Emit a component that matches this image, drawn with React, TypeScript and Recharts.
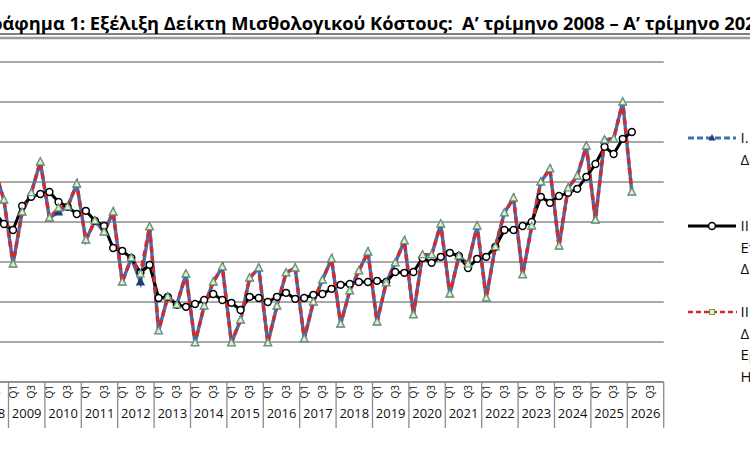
import React from "react";
import { LineChart, Line, XAxis, YAxis, CartesianGrid } from "recharts";

const years = [
  "2008", "2009", "2010", "2011", "2012", "2013", "2014", "2015", "2016", "2017",
  "2018", "2019", "2020", "2021", "2022", "2023", "2024", "2025", "2026",
];
const quarters = ["Q1", "Q2", "Q3", "Q4"];
const yTicks = [70, 80, 90, 100, 110, 120, 130, 140, 150];

// I. unadjusted index
const rawIndex = [
  104.3, 114.3, 123.0, 115.5, 99.5, 112.5, 117.3, 125.0, 111.0, 112.5,
  113.8, 119.5, 105.5, 110.3, 107.5, 112.5, 95.0, 101.0, 95.0, 108.8,
  82.8, 91.3, 89.3, 97.0, 79.8, 89.0, 95.0, 98.8, 79.8, 85.5,
  96.0, 98.5, 79.8, 89.0, 97.3, 98.5, 80.8, 90.0, 95.5, 100.8,
  84.5, 92.8, 97.8, 102.5, 85.0, 94.8, 99.8, 105.3, 86.8, 101.8,
  101.8, 109.5, 92.0, 101.5, 99.5, 109.0, 91.0, 103.8, 112.3, 116.0,
  96.8, 109.0, 120.0, 123.3, 104.0, 118.5, 121.5, 129.0, 110.5, 130.5,
  130.8, 140.0, 117.5,
];

// II. seasonally adjusted index
const seasonalAdj = [
  111.5, 112.3, 112.3, 109.5, 108.0, 114.0, 116.3, 117.0, 117.5, 115.0,
  113.8, 112.0, 112.8, 110.3, 109.0, 103.5, 102.8, 101.0, 97.3, 99.3,
  91.0, 91.3, 89.3, 88.8, 89.5, 90.5, 92.0, 90.5, 89.8, 88.0,
  91.3, 91.0, 90.0, 91.3, 92.3, 90.8, 91.0, 91.8, 92.0, 93.3,
  94.3, 94.5, 95.0, 95.0, 95.3, 95.0, 97.5, 97.3, 97.5, 101.0,
  99.8, 101.3, 102.3, 101.5, 98.5, 100.8, 101.3, 103.8, 108.0, 108.0,
  109.0, 110.0, 116.3, 114.8, 116.5, 117.3, 118.3, 121.3, 124.5, 128.8,
  127.0, 130.8, 132.5,
];

// III. working-day adjusted index
const workdayAdj = [
  104.3, 114.3, 123.0, 115.5, 99.5, 112.5, 117.3, 125.0, 111.0, 113.5,
  113.8, 119.5, 105.5, 110.3, 107.5, 112.5, 95.0, 101.0, 97.0, 108.8,
  82.8, 91.3, 89.3, 97.0, 79.8, 89.0, 95.0, 98.8, 79.8, 85.5,
  96.0, 98.5, 79.8, 89.0, 97.3, 98.5, 80.8, 90.0, 95.5, 100.8,
  84.5, 92.8, 97.8, 102.5, 85.0, 94.8, 99.8, 105.3, 86.8, 101.8,
  101.8, 109.5, 92.0, 101.5, 99.5, 109.0, 91.0, 103.8, 112.3, 116.0,
  96.8, 109.0, 120.0, 123.3, 104.0, 118.5, 121.5, 129.0, 110.5, 130.5,
  130.8, 140.0, 117.5,
];

const TITLE =
  "Γράφημα 1: Εξέλιξη Δείκτη Μισθολογικού Κόστους:  Α’ τρίμηνο 2008 – Α’ τρίμηνο 2026";

const legendItems = [
  { kind: "raw", lines: ["I. Αρχικός", "Δείκτης"] },
  { kind: "sa", lines: ["II. Δείκτης", "Εποχικά", "Διορθωμένος"] },
  { kind: "wd", lines: ["III. Δείκτης", "Διορθωμένος ως προς", "Εργάσιμες", "Ημέρες"] },
];

const data = years.flatMap((year, yi) =>
  quarters.map((quarter, qi) => {
    const i = yi * 4 + qi;
    return {
      label: `${year} ${quarter}`,
      year,
      quarter,
      raw: rawIndex[i] ?? null,
      sa: seasonalAdj[i] ?? null,
      wd: workdayAdj[i] ?? null,
    };
  })
);

const FONT = "'Open Sans', 'Noto Sans', sans-serif";
const BLUE = "#3F6FB4";
const RED = "#D12B2B";
const GRID = "#8C8C8C";

// layout: chart is shifted left so that the y axis sits outside the frame
const SHIFT = 100;
const MARGIN = { top: 62, right: 20, bottom: 27, left: 12.1 };
const Y_WIDTH = 60;
const CHART_W = SHIFT + 663.7 + MARGIN.right;
const CHART_H = 469;
const PLOT_L = MARGIN.left + Y_WIDTH;
const PLOT_R = CHART_W - MARGIN.right;
const BAND = (PLOT_R - PLOT_L) / data.length;
const AXIS_Y = MARGIN.top + 320;

function QuarterTick(props: any) {
  const { x, payload } = props;
  const i = payload.index;
  const d = data[i];
  if (!d) return <g />;
  return (
    <g>
      {i % 2 === 0 && (
        <text
          transform={`translate(${x + 3.6},${AXIS_Y + 3}) rotate(-90)`}
          textAnchor="end"
          fontSize={10}
          fontFamily={FONT}
          fill="#111"
        >
          {d.quarter}
        </text>
      )}
      {i % 4 === 0 && (
        <>
          <line x1={x - BAND / 2} x2={x - BAND / 2} y1={AXIS_Y} y2={AXIS_Y + 46} stroke={GRID} strokeWidth={1.3} />
          <text
            x={x + 1.5 * BAND}
            y={AXIS_Y + 36}
            textAnchor="middle"
            fontSize={13}
            fontFamily={FONT}
            fill="#111"
          >
            {d.year}
          </text>
        </>
      )}
      {i === data.length - 1 && (
        <line x1={x + BAND / 2} x2={x + BAND / 2} y1={AXIS_Y} y2={AXIS_Y + 46} stroke={GRID} strokeWidth={1.3} />
      )}
    </g>
  );
}

function TriangleDot(props: any) {
  const { cx, cy, index, fill, stroke } = props;
  if (cx == null || cy == null || props.value == null) return <g key={`t-${index}`} />;
  return (
    <polygon
      key={`t-${index}`}
      points={`${cx},${cy - 4} ${cx + 3.6},${cy + 2.8} ${cx - 3.6},${cy + 2.8}`}
      fill={fill}
      stroke={stroke}
      strokeWidth={1.3}
    />
  );
}

function CircleDot(props: any) {
  const { cx, cy, index } = props;
  if (cx == null || cy == null || props.value == null) return <g key={`c-${index}`} />;
  return <circle key={`c-${index}`} cx={cx} cy={cy} r={3.4} fill="#fff" stroke="#000" strokeWidth={1.5} />;
}

function Overlay() {
  const tops = [138, 226, 312];
  return (
    <svg
      width={750}
      height={469}
      style={{ position: "absolute", left: 0, top: 0, pointerEvents: "none" }}
    >
      <text
        x={-19}
        y={30}
        textLength={785}
        lengthAdjust="spacingAndGlyphs"
        fontFamily={FONT}
        fontWeight="bold"
        fontSize={18.5}
        fill="#000"
        style={{ whiteSpace: "pre" }}
      >
        {TITLE}
      </text>
      <line x1={0} x2={750} y1={34} y2={34} stroke="#000" strokeWidth={1} />
      <line x1={0} x2={750} y1={38} y2={38} stroke="#9A9A9A" strokeWidth={2.5} />

      {legendItems.map((item, k) => {
        const y = tops[k];
        return (
          <g key={item.kind}>
            {item.kind === "raw" && (
              <>
                <line x1={688} x2={736} y1={y} y2={y} stroke={BLUE} strokeWidth={3} strokeDasharray="6 3" />
                <polygon points={`712,${y - 4} 715.5,${y + 2.5} 708.5,${y + 2.5}`} fill="#1F3F73" />
              </>
            )}
            {item.kind === "sa" && (
              <>
                <line x1={688} x2={736} y1={y} y2={y} stroke="#000" strokeWidth={3} />
                <circle cx={712} cy={y} r={3.4} fill="#fff" stroke="#000" strokeWidth={1.5} />
              </>
            )}
            {item.kind === "wd" && (
              <>
                <line x1={688} x2={737} y1={y} y2={y} stroke={RED} strokeWidth={2.5} strokeDasharray="5 3" />
                <rect x={709.5} y={y - 2.5} width={5} height={5} fill="#EEEFB8" stroke="#6BA05A" strokeWidth={1} />
              </>
            )}
            {item.lines.map((t, j) => (
              <text key={j} x={740.5} y={y + 5 + j * 21.5} fontFamily={FONT} fontSize={15} fill="#111">
                {t}
              </text>
            ))}
          </g>
        );
      })}
    </svg>
  );
}

export default function App() {
  return (
    <div
      style={{
        position: "absolute",
        left: 0,
        top: 0,
        width: 750,
        height: 469,
        overflow: "hidden",
        background: "#fff",
      }}
    >
      <div style={{ position: "absolute", left: -SHIFT, top: 0 }}>
        <LineChart width={CHART_W} height={CHART_H} data={data} margin={MARGIN}>
          <CartesianGrid vertical={false} stroke={GRID} strokeWidth={1.6} />
          <XAxis
            dataKey="label"
            scale="point"
            interval={0}
            padding={{ left: BAND / 2, right: BAND / 2 }}
            tickLine={false}
            tickSize={0}
            height={60}
            axisLine={{ stroke: GRID, strokeWidth: 1.6 }}
            tick={<QuarterTick />}
          />
          <YAxis
            width={Y_WIDTH}
            domain={[70, 150]}
            ticks={yTicks}
            axisLine={false}
            tickLine={false}
            tick={{ fontSize: 13, fontFamily: FONT, fill: "#111" }}
          />
          <Line
            dataKey="raw"
            stroke={BLUE}
            strokeWidth={3.4}
            dot={(p: any) => <TriangleDot {...p} fill="#1F3F73" stroke="#1F3F73" />}
            activeDot={false}
            isAnimationActive={false}
          />
          <Line
            dataKey="sa"
            stroke="#000"
            strokeWidth={3}
            dot={(p: any) => <CircleDot {...p} />}
            activeDot={false}
            isAnimationActive={false}
          />
          <Line
            dataKey="wd"
            stroke={RED}
            strokeWidth={3.4}
            strokeDasharray="6 4"
            dot={(p: any) => <TriangleDot {...p} fill="#EEEFB8" stroke="#6B9E8A" />}
            activeDot={false}
            isAnimationActive={false}
          />
        </LineChart>
      </div>
      <Overlay />
    </div>
  );
}
